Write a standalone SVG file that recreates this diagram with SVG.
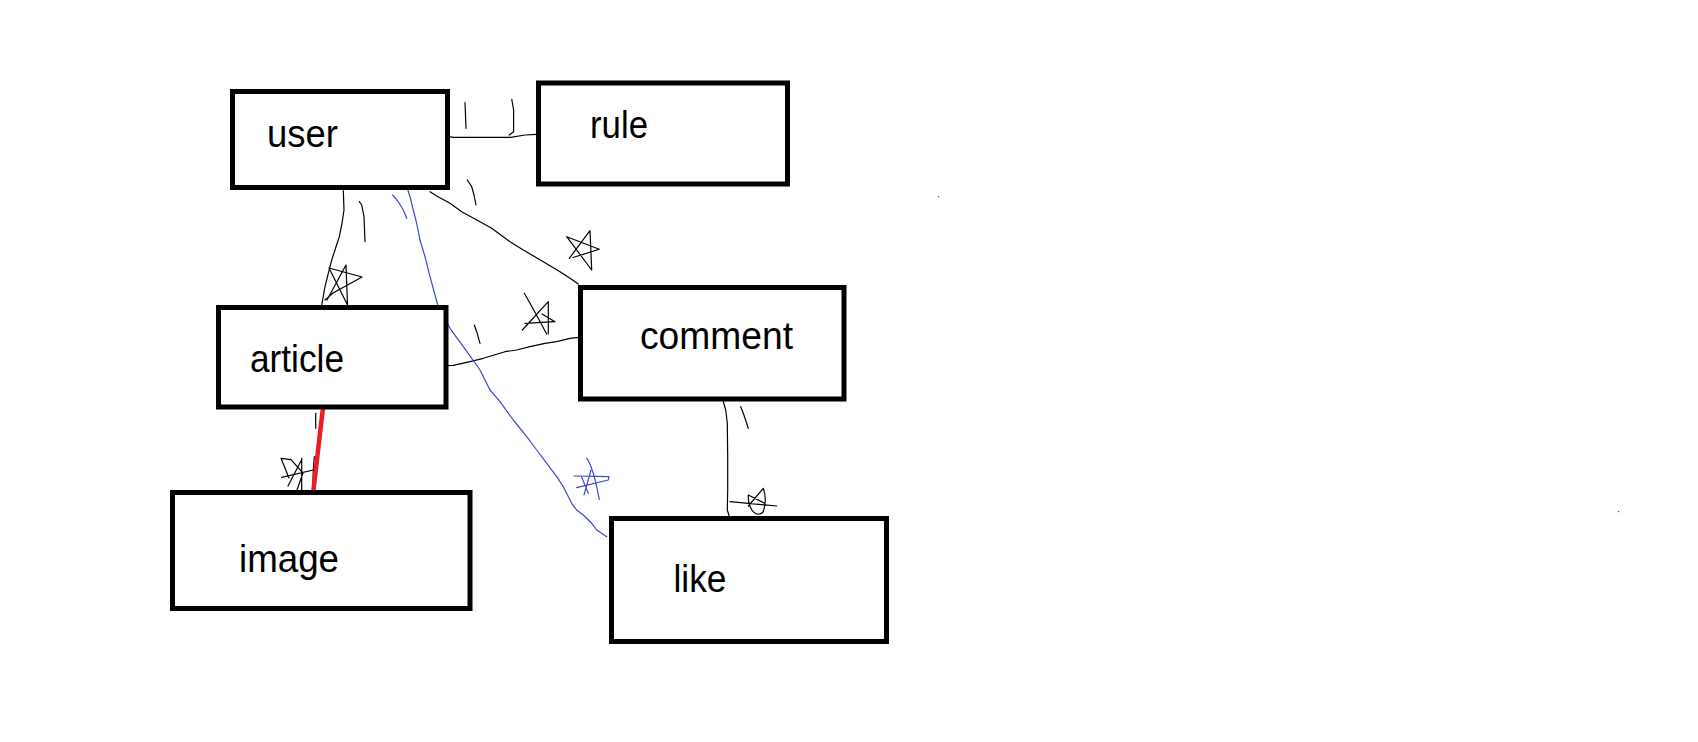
<svg xmlns="http://www.w3.org/2000/svg" width="1698" height="742" viewBox="0 0 1698 742">
<style>
.box{fill:#fff;stroke:#000;stroke-width:5}
.lbl{font-family:"Liberation Sans",Arial,sans-serif;font-size:39px;fill:#000}
.ln{fill:none;stroke:#000;stroke-width:1.2;stroke-linejoin:round;stroke-linecap:round}
.bl{fill:none;stroke:#3f48cc;stroke-width:1.2;stroke-linejoin:round;stroke-linecap:round}
.red{fill:none;stroke:#ed1c24;stroke-width:4.5;stroke-linecap:round}
</style>
<rect width="1698" height="742" fill="#fff"/>
<g id="connectors">
<!-- user - rule -->
<path class="ln" d="M441.5,135.3 L453.6,137.3 L510.7,137.3 L525,135 L537,134.3"/>
<path class="ln" d="M465,102.5 L466,128.3"/>
<path class="ln" d="M511.8,99.3 L513.6,110 L513.6,131.7 L509.3,135"/>
<!-- user - article -->
<path class="ln" d="M343.3,190.7 L344,210 L342,223.3 L339.3,236.7 L335,250 L331.7,260 L328.3,273.3 L325,286.7 L321.7,305"/>
<path class="ln" d="M359.3,201.7 L361.7,205 L364,216.7 L365,241.7"/>
<path class="ln" d="M327,300 L346,265 L347.5,305 L329,268 L362,277 L333,293 L325,300"/>
<!-- user - comment -->
<path class="ln" d="M430,191.7 L436.7,196 L450,203.3 L461.7,211.7 L480,221.7 L491.7,228.3 L510,241.7 L523.3,250 L543.3,261.7 L560,271.7 L570,278.3 L578.3,284"/>
<path class="ln" d="M467.3,180 L471.7,186.7 L474,195 L476,205"/>
<path class="ln" d="M569.3,258.3 L590,230.7 L591.7,270 L566.7,236.7 L599.3,249.3 L573,257.5"/>
<!-- article - comment -->
<path class="ln" d="M440,365.7 L453.3,365.3 L470,361.7 L483.3,358.3 L505,351.7 L516.7,350 L530,346.7 L545,343.3 L556.7,341.7 L570,338.3 L578.3,337.3"/>
<path class="ln" d="M474.3,325 L476.7,331.7 L480,343.3"/>
<path class="ln" d="M524.3,293.3 L531,305 L546.7,334 M548.3,301.7 L548.3,334 M522.3,330 L548.3,301.7 M525,323.3 L555,321.7 L542,314"/>
<!-- article - image -->
<path class="ln" d="M315.7,413.3 L315.7,428.3"/>
<path class="ln" d="M314.3,456.7 L313.3,470 L312.7,490"/>
<path class="ln" d="M281,458.3 L291,459.7 L303,473 L297,490 M301.7,458.3 L301.7,490 M281.7,477.3 L313.3,470 M288,486 L302,459 M281,458.3 L289,478"/>
<path class="red" d="M323.3,405 L312.7,496.7"/>
<!-- user - like (blue) -->
<path class="bl" d="M392.7,195 L398.3,201.7 L403.3,210 L406.7,218.3"/>
<path class="bl" d="M407.3,188.3 L410,196.7 L413.3,210 L416.7,223.3 L420,240 L425,256.7 L430,276.7 L435,295 L438.3,306.7 L443.3,315 L450,328.3 L463.3,346.7 L480,370 L490,390 L500,401.7 L513.3,420 L526.7,436.7 L536.7,450 L546.7,463.3 L556.7,476.7 L563.3,486.7 L571.7,503.3 L576.7,510 L583.3,515 L591.7,523.3 L596.7,530 L606.7,536.7"/>
<path class="bl" d="M586.7,458.3 Q593,466 599.3,499.3 M574,476 L609,476.7 L608.3,480 L576.7,487.7 M581.7,477.3 L588.3,493.3 M591,470 L584,495"/>
<!-- comment - like -->
<path class="ln" d="M723.3,401.7 L725.7,410 L727.3,423.3 L727.7,456.7 L727.7,490 L727.3,510 L729.3,516.7"/>
<path class="ln" d="M740.7,406.7 L743.3,413.3 L748.3,428.3"/>
<path class="ln" d="M730,501.7 L776.7,506 M748.3,495 C748,512 758,518 763,512 C766,505 766,495 763.3,488.3 L748.3,506 M748.3,495 L764,503"/>
</g>
<g id="user"><rect class="box" x="232.5" y="91.5" width="215" height="96"/><text class="lbl" x="267" y="146.7" textLength="71" lengthAdjust="spacingAndGlyphs">user</text></g>
<g id="rule"><rect class="box" x="538.5" y="83" width="249" height="101"/><text class="lbl" x="590" y="138.3" textLength="58" lengthAdjust="spacingAndGlyphs">rule</text></g>
<g id="article"><rect class="box" x="218.5" y="307.5" width="227.5" height="99.5"/><text class="lbl" x="250" y="372.3" textLength="94" lengthAdjust="spacingAndGlyphs">article</text></g>
<g id="comment"><rect class="box" x="580.5" y="287.5" width="263.5" height="111.5"/><text class="lbl" x="640" y="349" textLength="153" lengthAdjust="spacingAndGlyphs">comment</text></g>
<g id="image"><rect class="box" x="172.5" y="492.5" width="297.5" height="116"/><text class="lbl" x="239" y="571.7" textLength="100" lengthAdjust="spacingAndGlyphs">image</text></g>
<g id="like"><rect class="box" x="611.5" y="518.5" width="275" height="123"/><text class="lbl" x="673.5" y="592.3" textLength="53" lengthAdjust="spacingAndGlyphs">like</text></g>
<rect x="938" y="196" width="1.2" height="1.2" fill="#555"/>
<rect x="1618" y="511" width="1.2" height="1.2" fill="#555"/>
</svg>
